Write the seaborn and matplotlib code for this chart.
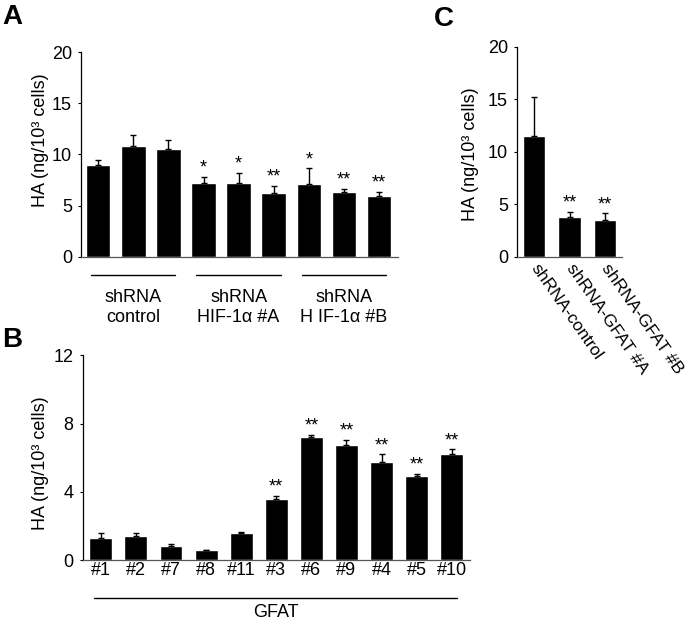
import matplotlib
matplotlib.use('Agg')
import matplotlib.pyplot as plt
import pandas as pd
import seaborn as sns

sns.set_style('white')
plt.rcParams['font.family'] = ['Liberation Sans', 'DejaVu Sans']
plt.rcParams['font.size'] = 13
plt.rcParams['text.color'] = 'black'
plt.rcParams['axes.labelcolor'] = 'black'
plt.rcParams['xtick.color'] = 'black'
plt.rcParams['ytick.color'] = 'black'

# Panel A data
a_ids = ['c1', 'c2', 'c3', 'a1', 'a2', 'a3', 'b1', 'b2', 'b3']
a_mean = [9.0, 10.86, 10.5, 7.2, 7.25, 6.27, 7.09, 6.3, 5.95]
a_err = [0.5, 1.07, 0.9, 0.6, 0.95, 0.66, 1.56, 0.33, 0.42]
a_sig = ['', '', '', '*', '*', '**', '*', '**', '**']
a_groups = ['shRNA\ncontrol', 'shRNA\nHIF-1α #A', 'shRNA\nH IF-1α #B']

# Panel B data
b_ids = ['#1', '#2', '#7', '#8', '#11', '#3', '#6', '#9', '#4', '#5', '#10']
b_mean = [1.32, 1.42, 0.84, 0.58, 1.62, 3.57, 7.2, 6.73, 5.76, 4.94, 6.2]
b_err = [0.26, 0.2, 0.11, 0.04, 0.06, 0.21, 0.14, 0.33, 0.45, 0.13, 0.3]
b_sig = ['', '', '', '', '', '**', '**', '**', '**', '**', '**']

# Panel C data
c_ids = ['shRNA-control', 'shRNA-GFAT #A', 'shRNA-GFAT #B']
c_mean = [11.52, 3.75, 3.52]
c_err = [3.72, 0.51, 0.61]
c_sig = ['', '**', '**']

W, H = 693, 622
fig = plt.figure(figsize=(W / 100, H / 100), dpi=100)


def px_axes(left, right, top, bottom):
    return fig.add_axes([left / W, 1 - bottom / H, (right - left) / W, (bottom - top) / H])


def bars(ax, ids, mean, err, sig, width):
    df = pd.DataFrame({'id': ids, 'mean': mean, 'err': err})
    sns.barplot(data=df, x='id', y='mean', order=ids, color='black', saturation=1,
                width=width, errorbar=None, ax=ax)
    x = range(len(ids))
    ax.errorbar(x, df['mean'], yerr=[[0] * len(ids), df['err']], fmt='none',
                ecolor='black', elinewidth=1, capsize=2.5, capthick=1)
    for i, s in enumerate(sig):
        if s:
            ax.annotate(s, (i, mean[i] + err[i]), xytext=(0, 0), textcoords='offset points',
                        ha='center', va='bottom', fontsize=13)
    ax.set_xlabel('')
    ax.set_ylabel('HA (ng/10³ cells)', fontsize=13)
    for side in ['top', 'right']:
        ax.spines[side].set_visible(False)
    ax.spines['left'].set_color('black')
    ax.spines['left'].set_linewidth(0.9)
    ax.spines['bottom'].set_color('#555555')
    ax.spines['bottom'].set_linewidth(0.9)
    ax.tick_params(axis='y', direction='out', length=2.5, width=0.8, pad=4, labelsize=13, left=True)
    ax.tick_params(axis='x', length=0, labelsize=13)


# A
axA = px_axes(81, 398, 52.3, 256.7)
bars(axA, a_ids, a_mean, a_err, a_sig, 0.70)
axA.set_ylim(0, 20)
axA.set_yticks([0, 5, 10, 15, 20])
axA.set_xlim(-0.49, 8.54)
axA.set_xticklabels([])
axA.yaxis.set_label_coords(-0.1, 0.57)
for g, lab in enumerate(a_groups):
    x0 = g * 3
    axA.plot([x0 - 0.2, x0 + 2.2], [-0.09, -0.09], color='black', lw=1,
             transform=axA.get_xaxis_transform(), clip_on=False)
    top, bot = lab.split('\n')
    axA.text(x0 + 1, -0.222, top, ha='center', va='baseline', fontsize=13,
             transform=axA.get_xaxis_transform())
    axA.text(x0 + 1, -0.32, bot, ha='center', va='baseline', fontsize=13,
             transform=axA.get_xaxis_transform())

# B
axB = px_axes(82.7, 470, 355.3, 560.3)
bars(axB, b_ids, b_mean, b_err, b_sig, 0.655)
axB.set_ylim(0, 12)
axB.set_yticks([0, 4, 8, 12])
axB.set_xlim(-0.516, 10.52)
axB.tick_params(axis='x', pad=1)
axB.yaxis.set_label_coords(-0.088, 0.475)
axB.plot([-0.19, 10.15], [-0.184, -0.184], color='black', lw=1,
         transform=axB.get_xaxis_transform(), clip_on=False)
axB.text(5, -0.278, 'GFAT', ha='center', va='baseline', fontsize=13,
         transform=axB.get_xaxis_transform())

# C
axC = px_axes(517, 622, 46.7, 256.7)
bars(axC, c_ids, c_mean, c_err, c_sig, 0.64)
axC.set_ylim(0, 20)
axC.set_yticks([0, 5, 10, 15, 20])
axC.set_xlim(-0.48, 2.48)
axC.set_xticklabels(c_ids, rotation=-55, ha='left', va='center', rotation_mode='anchor',
                    fontsize=12.5)
axC.tick_params(axis='x', pad=6)
axC.yaxis.set_label_coords(-0.36, 0.49)

# panel letters
for lab, x, y in [('A', 2, 4), ('B', 2, 327), ('C', 434, 6)]:
    fig.text(x / W, 1 - y / H, lab, fontsize=20, fontweight='bold', ha='left', va='top')

fig.savefig('out.png', dpi=100)
